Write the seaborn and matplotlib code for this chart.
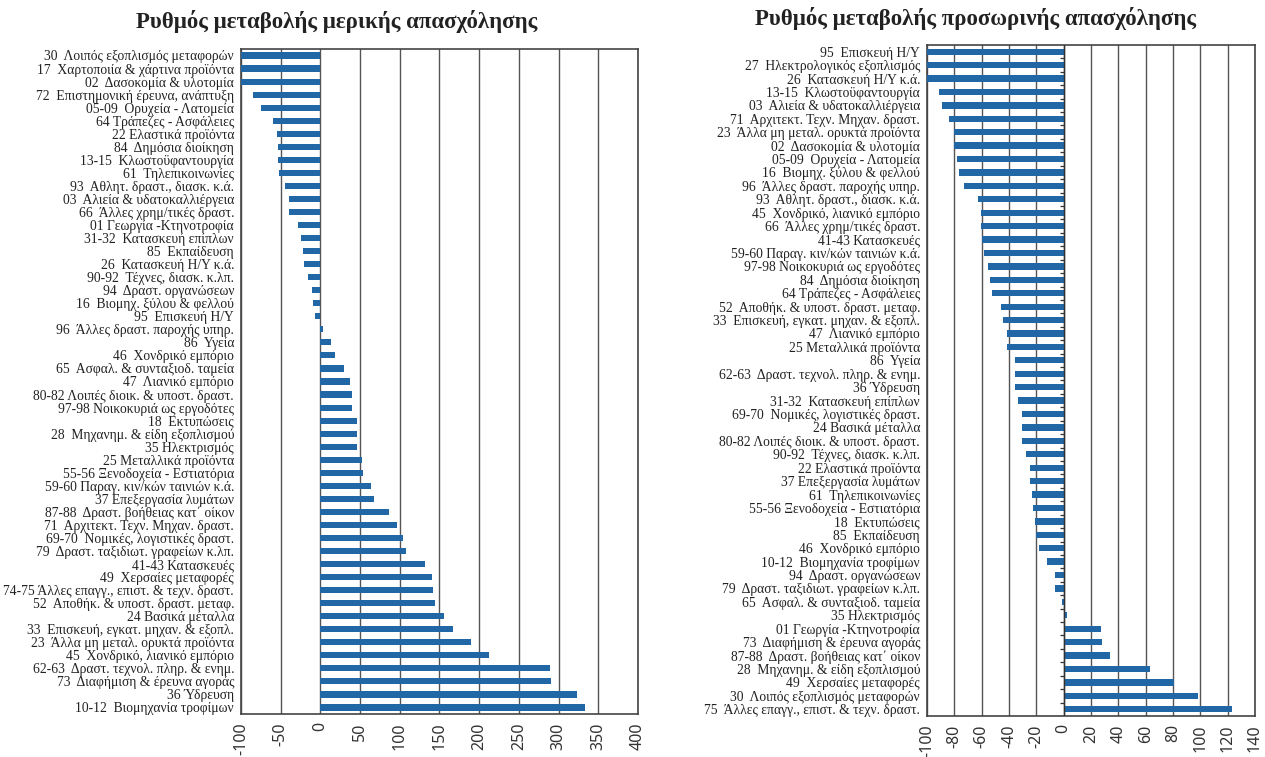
import matplotlib
matplotlib.use("Agg")
import matplotlib.pyplot as plt
import seaborn as sns

# ---- data: part-time employment change (%) ----
part_labels = [
    "30  Λοιπός εξοπλισμός μεταφορών",
    "17  Χαρτοποιία & χάρτινα προϊόντα",
    "02  Δασοκομία & υλοτομία",
    "72  Επιστημονική έρευνα, ανάπτυξη",
    "05-09  Ορυχεία - Λατομεία",
    "64 Τράπεζες - Ασφάλειες",
    "22 Ελαστικά προϊόντα",
    "84  Δημόσια διοίκηση",
    "13-15  Κλωστοϋφαντουργία",
    "61  Τηλεπικοινωνίες",
    "93  Αθλητ. δραστ., διασκ. κ.ά.",
    "03  Αλιεία & υδατοκαλλιέργεια",
    "66  Άλλες χρημ/τικές δραστ.",
    "01 Γεωργία -Κτηνοτροφία",
    "31-32  Κατασκευή επίπλων",
    "85  Εκπαίδευση",
    "26  Κατασκευή Η/Υ κ.ά.",
    "90-92  Τέχνες, διασκ. κ.λπ.",
    "94  Δραστ. οργανώσεων",
    "16  Βιομηχ. ξύλου & φελλού",
    "95  Επισκευή Η/Υ",
    "96  Άλλες δραστ. παροχής υπηρ.",
    "86  Υγεία",
    "46  Χονδρικό εμπόριο",
    "65  Ασφαλ. & συνταξιοδ. ταμεία",
    "47  Λιανικό εμπόριο",
    "80-82 Λοιπές διοικ. & υποστ. δραστ.",
    "97-98 Νοικοκυριά ως εργοδότες",
    "18  Εκτυπώσεις",
    "28  Μηχανημ. & είδη εξοπλισμού",
    "35 Ηλεκτρισμός",
    "25 Μεταλλικά προϊόντα",
    "55-56 Ξενοδοχεία - Εστιατόρια",
    "59-60 Παραγ. κιν/κών ταινιών κ.ά.",
    "37 Επεξεργασία λυμάτων",
    "87-88  Δραστ. βοήθειας κατ΄ οίκον",
    "71  Αρχιτεκτ. Τεχν. Μηχαν. δραστ.",
    "69-70  Νομικές, λογιστικές δραστ.",
    "79  Δραστ. ταξιδιωτ. γραφείων κ.λπ.",
    "41-43 Κατασκευές",
    "49  Χερσαίες μεταφορές",
    "74-75 Άλλες επαγγ., επιστ. & τεχν. δραστ.",
    "52  Αποθήκ. & υποστ. δραστ. μεταφ.",
    "24 Βασικά μέταλλα",
    "33  Επισκευή, εγκατ. μηχαν. & εξοπλ.",
    "23  Άλλα μη μεταλ. ορυκτά προϊόντα",
    "45  Χονδρικό, λιανικό εμπόριο",
    "62-63  Δραστ. τεχνολ. πληρ. & ενημ.",
    "73  Διαφήμιση & έρευνα αγοράς",
    "36 Ύδρευση",
    "10-12  Βιομηχανία τροφίμων",
]
part_values = [
    -100, -100, -100, -85, -75, -60, -55, -54, -54, -52,
    -45, -40, -39, -28.5, -25, -22, -21, -16, -11, -9.6,
    -7, 3, 13, 18.5, 30, 37, 40, 40, 46, 46.5,
    46.5, 53, 54, 64, 67, 87, 97, 104, 108, 132,
    140, 142, 145, 156, 167, 190, 212, 289, 291, 323, 333,
]

# ---- data: temporary employment change (%) ----
temp_labels = [
    "95  Επισκευή Η/Υ",
    "27  Ηλεκτρολογικός εξοπλισμός",
    "26  Κατασκευή Η/Υ κ.ά.",
    "13-15  Κλωστοϋφαντουργία",
    "03  Αλιεία & υδατοκαλλιέργεια",
    "71  Αρχιτεκτ. Τεχν. Μηχαν. δραστ.",
    "23  Άλλα μη μεταλ. ορυκτά προϊόντα",
    "02  Δασοκομία & υλοτομία",
    "05-09  Ορυχεία - Λατομεία",
    "16  Βιομηχ. ξύλου & φελλού",
    "96  Άλλες δραστ. παροχής υπηρ.",
    "93  Αθλητ. δραστ., διασκ. κ.ά.",
    "45  Χονδρικό, λιανικό εμπόριο",
    "66  Άλλες χρημ/τικές δραστ.",
    "41-43 Κατασκευές",
    "59-60 Παραγ. κιν/κών ταινιών κ.ά.",
    "97-98 Νοικοκυριά ως εργοδότες",
    "84  Δημόσια διοίκηση",
    "64 Τράπεζες - Ασφάλειες",
    "52  Αποθήκ. & υποστ. δραστ. μεταφ.",
    "33  Επισκευή, εγκατ. μηχαν. & εξοπλ.",
    "47  Λιανικό εμπόριο",
    "25 Μεταλλικά προϊόντα",
    "86  Υγεία",
    "62-63  Δραστ. τεχνολ. πληρ. & ενημ.",
    "36 Ύδρευση",
    "31-32  Κατασκευή επίπλων",
    "69-70  Νομικές, λογιστικές δραστ.",
    "24 Βασικά μέταλλα",
    "80-82 Λοιπές διοικ. & υποστ. δραστ.",
    "90-92  Τέχνες, διασκ. κ.λπ.",
    "22 Ελαστικά προϊόντα",
    "37 Επεξεργασία λυμάτων",
    "61  Τηλεπικοινωνίες",
    "55-56 Ξενοδοχεία - Εστιατόρια",
    "18  Εκτυπώσεις",
    "85  Εκπαίδευση",
    "46  Χονδρικό εμπόριο",
    "10-12  Βιομηχανία τροφίμων",
    "94  Δραστ. οργανώσεων",
    "79  Δραστ. ταξιδιωτ. γραφείων κ.λπ.",
    "65  Ασφαλ. & συνταξιοδ. ταμεία",
    "35 Ηλεκτρισμός",
    "01 Γεωργία -Κτηνοτροφία",
    "73  Διαφήμιση & έρευνα αγοράς",
    "87-88  Δραστ. βοήθειας κατ΄ οίκον",
    "28  Μηχανημ. & είδη εξοπλισμού",
    "49  Χερσαίες μεταφορές",
    "30  Λοιπός εξοπλισμός μεταφορών",
    "75  Άλλες επαγγ., επιστ. & τεχν. δραστ.",
]
temp_values = [
    -100, -100, -100, -91.5, -89.3, -84.1, -80.2, -80.2, -78.3, -76.8,
    -73.2, -62.9, -60.7, -60.7, -59.8, -58.5, -55.6, -54.1, -52.7, -46.1,
    -44.6, -41.7, -41.7, -35.9, -35.9, -35.9, -33.7, -30.7, -30.7, -30.7,
    -27.8, -24.9, -24.9, -23.4, -22.7, -21.2, -20.5, -18.3, -12.4, -6.6,
    -6.6, -1.5, 2.2, 27, 27.8, 33.7, 62.9, 80.5, 98, 122.9,
]

part_ticks = list(range(-100, 401, 50))
temp_ticks = list(range(-100, 141, 20))

titles = ["Ρυθμός μεταβολής μερικής απασχόλησης",
          "Ρυθμός μεταβολής προσωρινής απασχόλησης"]

bar_color = "#2166a5"
grid_color = "#555555"

sns.set_style("white")
plt.rcParams["font.family"] = ["Liberation Serif", "DejaVu Serif"]

fig = plt.figure(figsize=(12.65, 7.57), dpi=100)
ax1 = fig.add_axes([0.1905, 0.0568, 0.3138, 0.8785])
ax2 = fig.add_axes([0.7328, 0.0542, 0.2593, 0.8864])


def draw_panel(ax, labels, values, ticks, zero_ticks=False):
    sns.barplot(x=values, y=labels, color=bar_color, width=0.47,
                orient="h", saturation=1, linewidth=0, ax=ax, zorder=3)
    ax.set_xlim(ticks[0], ticks[-1])
    ax.set_ylim(len(labels) - 0.5, -0.5)
    ax.set_xticks(ticks)
    ax.set_xticklabels([str(t) for t in ticks], rotation=90,
                       family=["Noto Sans", "DejaVu Sans"], fontsize=11.5,
                       color="#333333")
    ax.tick_params(axis="x", length=4, width=0.8, color="#444444", pad=2)
    ax.tick_params(axis="y", length=0, pad=5, labelsize=9.8,
                   labelcolor="#222222")
    for t in ticks:
        ax.axvline(t, color=grid_color, lw=1, zorder=1)
    for s in ax.spines.values():
        s.set_color("#444444")
        s.set_linewidth(1.2)
    ax.set_xlabel("")
    ax.set_ylabel("")
    if zero_ticks:
        ax.axvline(0, color="#333333", lw=1, zorder=4)
        for i in range(len(labels)):
            ax.plot([-3, 0], [i + 0.5, i + 0.5], color="#333333", lw=0.9,
                    zorder=4, solid_capstyle="butt")


draw_panel(ax1, part_labels, part_values, part_ticks)
draw_panel(ax2, temp_labels, temp_values, temp_ticks, zero_ticks=True)

fig.text(0.266, 0.971, titles[0], ha="center", va="center",
         fontsize=16.5, fontweight="bold", color="#222222")
fig.text(0.771, 0.975, titles[1], ha="center", va="center",
         fontsize=16.5, fontweight="bold", color="#222222")

fig.savefig("out.png", dpi=100)
